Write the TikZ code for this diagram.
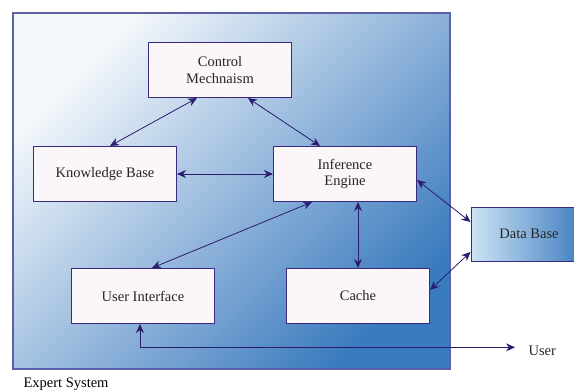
\documentclass[tikz,border=0pt]{standalone}
\usepackage{fontspec}
\setmainfont{Liberation Serif}
\usetikzlibrary{arrows.meta}
\definecolor{navy}{RGB}{44,28,112}
\definecolor{boxline}{RGB}{58,42,128}
\definecolor{boxfill}{RGB}{250,246,250}
\definecolor{frame}{RGB}{92,96,168}
\definecolor{skylight}{RGB}{246,249,252}
\definecolor{skymid}{RGB}{146,194,232}
\definecolor{skydark}{RGB}{58,122,190}

\begin{document}
\begin{tikzpicture}[x=1pt,y=-1pt,
  module/.style={draw=boxline,line width=1.1pt,fill=boxfill,text=black!85,
    minimum width=143pt,minimum height=55pt,align=center,
    font=\fontsize{14.5}{16.5}\selectfont},
  link/.style={navy,line width=0.8pt,
    {Stealth[length=9pt,width=8pt]}-{Stealth[length=9pt,width=8pt]}}]

\useasboundingbox (0,0) rectangle (574,389);

% expert system frame
\draw[frame,line width=1.3pt,top color=skylight,middle color=skymid,
  bottom color=skydark,shading angle=45] (13,13) rectangle (450,369);
\node[anchor=base west,font=\fontsize{14.5}{16.5}\selectfont] at (20,387) {Expert System};

\node[module] (cm) at (220,70) {Control\\Mechnaism};
\node[module] (kb) at (105,174) {Knowledge Base};
\node[module] (ie) at (345,174) {Inference\\Engine};
\node[module] (ui) at (143,296) {User Interface};
\node[module] (ca) at (358,296) {Cache};

\node[module,line width=0.9pt,minimum width=116pt,minimum height=54pt,
  left color=skymid!45!white,right color=skydark] (db) at (529,234) {Data Base};
\node[anchor=base west,text=black!85,font=\fontsize{14.5}{16.5}\selectfont] (user) at (525,355) {User};

\draw[link] ([xshift=-23pt]cm.south) -- ([xshift=5pt]kb.north);
\draw[link] ([xshift=28pt]cm.south) -- ([xshift=-25pt]ie.north);
\draw[link] (kb.east) -- (ie.west);
\draw[link] ([xshift=-33pt]ie.south) -- ([xshift=9pt]ui.north);
\draw[link] (ie.south -| ca.north) -- (ca.north);
\draw[link] ([yshift=-6pt]ie.east) -- ([yshift=12pt]db.west);
\draw[link] ([yshift=6pt]ca.east) -- ([yshift=-18pt]db.west);
\draw[link] ([xshift=-3pt]ui.south) |- ([xshift=-10pt,yshift=3pt]user.west);
\end{tikzpicture}
\end{document}
